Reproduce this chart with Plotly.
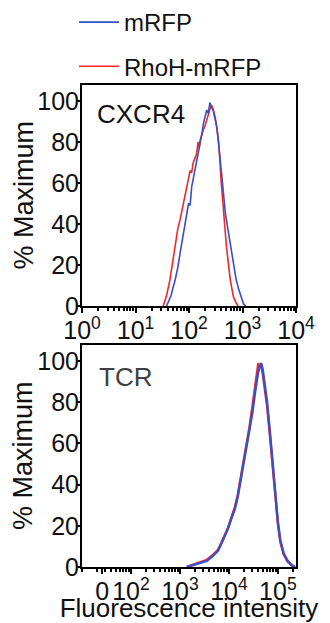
import plotly.graph_objects as go

# ---------------- data ----------------
series_names = ["mRFP", "RhoH-mRFP"]
series_colors = ["#3a4fc6", "#f0282c"]

# CXCR4 histogram (fluorescence intensity, % maximum)
cxcr4_mrfp_x = [38, 46, 55, 62, 68, 76, 85, 91, 98, 105, 112, 120, 129, 138, 148, 155, 162,
                174, 186, 200, 214, 229, 246, 263, 282, 302, 331, 355, 380, 417, 479, 550,
                617, 692, 759, 851, 955, 1047, 1148]
cxcr4_mrfp_y = [0, 5, 12.7, 19, 25.7, 33, 40, 46, 50, 49, 58, 62, 66, 70, 74, 76, 79,
                84, 89, 92, 95.6, 94, 99.2, 97, 95.6, 92, 87.5, 80, 73, 61.5, 45, 35,
                27, 20, 13, 8, 3.5, 1, 0]
cxcr4_rhoh_x = [33, 38, 44, 49, 55, 62, 68, 76, 85, 91, 98, 105, 112, 120, 129, 138, 148,
                155, 162, 174, 186, 200, 214, 229, 246, 263, 282, 309, 331, 355, 380, 398,
                447, 501, 589, 676, 759, 832]
cxcr4_rhoh_y = [0, 5, 12.7, 21, 29, 38, 42, 48, 53, 58, 61, 66, 65, 70, 72, 74, 80,
                77, 81, 84, 86, 88, 91, 93, 96, 98, 96, 92, 87, 81, 70, 61,
                45, 29, 13, 4.5, 1.5, 0]

# TCR histogram
tcr_x = [1380, 1778, 2512, 3548, 4786, 6026, 7079, 8318, 9550, 11220, 13183, 15136, 17378,
         19953, 22909, 26303, 30200, 33884, 37154, 39811, 42658, 45709, 48978, 53703, 60256,
         69183, 79433, 89125, 100000, 112202, 131826, 158489, 190546, 223872]
tcr_mrfp_y = [0, 0.8, 1.8, 3, 5.5, 8, 11.5, 15, 18.5, 23.5, 28, 34, 42,
              50, 57, 66, 75, 84, 91, 95, 97, 99, 96, 89, 80,
              65, 48, 34, 22, 13, 6.5, 3, 1, 0]
tcr_rhoh_y = [0, 1, 2, 3.5, 6, 8.5, 12, 16, 19, 24, 29, 35, 43,
              51, 59, 68, 78, 88, 96, 99, 97, 98, 94, 87, 78,
              63, 47, 33, 21, 12, 6, 2.5, 0.8, 0]

panel_labels = ["CXCR4", "TCR"]
y_title = "% Maximum"
x_title = "Fluorescence intensity"
y_tickvals = [0, 20, 40, 60, 80, 100]
top_x_tickvals = [1, 10, 100, 1000, 10000]
top_x_ticktext = ["10<sup>0</sup>", "10<sup>1</sup>", "10<sup>2</sup>", "10<sup>3</sup>", "10<sup>4</sup>"]
bot_x_tickvals = [26, 100, 1000, 10000, 100000]
bot_x_ticktext = ["0", "10<sup>2</sup>", "10<sup>3</sup>", "10<sup>4</sup>", "10<sup>5</sup>"]

# ---------------- figure ----------------
W, H = 330, 623
FONT = "Liberation Sans, Arial, sans-serif"

# plot-area geometry in pixels
L, R = 82, 296          # left / right edge of both panels
T, B = 85, 567          # top of upper panel, bottom of lower panel
top_bottom_px = 306
bot_top_px = 345
PH = B - T
PW = R - L

def py(p):   # pixel row -> paper y
    return (B - p) / PH

def pxx(p):  # pixel column -> paper x
    return (p - L) / PW

fig = go.Figure()

fig.add_trace(go.Scatter(x=cxcr4_rhoh_x, y=cxcr4_rhoh_y, mode="lines", name=series_names[1],
                         line=dict(color=series_colors[1], width=1.6), legendrank=2,
                         legendgroup="b", xaxis="x", yaxis="y"))
fig.add_trace(go.Scatter(x=cxcr4_mrfp_x, y=cxcr4_mrfp_y, mode="lines", name=series_names[0],
                         line=dict(color=series_colors[0], width=1.6), legendrank=1,
                         legendgroup="a", xaxis="x", yaxis="y"))
fig.add_trace(go.Scatter(x=tcr_x, y=tcr_rhoh_y, mode="lines", name=series_names[1],
                         line=dict(color=series_colors[1], width=2.4), showlegend=False,
                         xaxis="x2", yaxis="y2"))
fig.add_trace(go.Scatter(x=tcr_x, y=tcr_mrfp_y, mode="lines", name=series_names[0],
                         line=dict(color=series_colors[0], width=2.4), showlegend=False,
                         xaxis="x2", yaxis="y2"))

axis_common = dict(showline=True, linecolor="black", linewidth=2, mirror=True,
                   ticks="outside", tickcolor="black", showgrid=False, zeroline=False,
                   automargin=False, tickangle=0,
                   tickfont=dict(family=FONT, size=25, color="#111111"))
y_title_font = dict(family=FONT, size=27, color="#111111")
x_title_font = dict(family=FONT, size=26, color="#111111")

fig.update_layout(
    width=W, height=H,
    margin=dict(l=L, r=W - R, t=T, b=H - B, pad=0, autoexpand=False),
    paper_bgcolor="white", plot_bgcolor="white",
    font=dict(family=FONT, color="#111111"),
    showlegend=True,
    legend=dict(x=pxx(74), y=py(0), xanchor="left", yanchor="top",
                font=dict(family=FONT, size=24, color="#111111"),
                bgcolor="rgba(0,0,0,0)", traceorder="grouped", tracegroupgap=10,
                itemwidth=40),
    xaxis=dict(type="log", domain=[0, 1], anchor="y", range=[0, 4],
               tickmode="array", tickvals=top_x_tickvals, ticktext=top_x_ticktext,
               ticklen=5, tickwidth=1.5, ticklabelstandoff=-4,
               minor=dict(ticks="outside", ticklen=3, tickcolor="black", dtick="D1", showgrid=False),
               **axis_common),
    yaxis=dict(domain=[py(top_bottom_px), 1], anchor="x", range=[0, 107.8],
               tickmode="array", tickvals=y_tickvals, ticklen=4, tickwidth=1.5,
               ticklabelstandoff=-8,
               **axis_common),
    xaxis2=dict(type="log", domain=[0, 1], anchor="y2", range=[1.0, 5.37],
                tickmode="array", tickvals=bot_x_tickvals, ticktext=bot_x_ticktext,
                ticklen=5, tickwidth=1.5, ticklabelstandoff=-4,
                minor=dict(ticks="outside", ticklen=3, tickcolor="black", dtick="D1", showgrid=False),
                title=dict(text=x_title, font=x_title_font, standoff=4),
                **axis_common),
    yaxis2=dict(domain=[0, py(bot_top_px)], anchor="x2", range=[0, 107.8],
                tickmode="array", tickvals=y_tickvals, ticklen=4, tickwidth=1.5,
                ticklabelstandoff=-8,
                **axis_common),
    annotations=[
        dict(text=panel_labels[0], x=pxx(95), y=py(114), xref="paper", yref="paper",
             xanchor="left", yanchor="middle", showarrow=False,
             font=dict(family=FONT, size=26, color="#111111")),
        dict(text=panel_labels[1], x=pxx(97), y=py(377), xref="paper", yref="paper",
             xanchor="left", yanchor="middle", showarrow=False,
             font=dict(family=FONT, size=26, color="#404040")),
        # y-axis titles of both panels
        dict(text=y_title, x=pxx(23), y=py((T + top_bottom_px) / 2), xref="paper", yref="paper",
             xanchor="center", yanchor="middle", textangle=-90, showarrow=False,
             font=y_title_font),
        dict(text=y_title, x=pxx(23), y=py((bot_top_px + B) / 2), xref="paper", yref="paper",
             xanchor="center", yanchor="middle", textangle=-90, showarrow=False,
             font=y_title_font),
    ],
)

fig.write_html("out.html", config={"displayModeBar": False},
               post_script="document.body.style.margin='0px';")
